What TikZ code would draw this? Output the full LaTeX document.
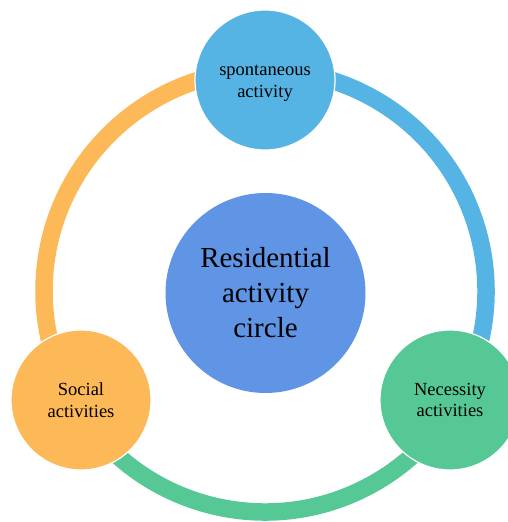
\documentclass[tikz,border=0pt]{standalone}
\usepackage{fontspec}
\setmainfont{Liberation Serif}
\usetikzlibrary{calc}
\definecolor{skyb}{RGB}{86,180,228}
\definecolor{midb}{RGB}{96,148,228}
\definecolor{orng}{RGB}{253,184,87}
\definecolor{grn}{RGB}{86,200,150}
\tikzset{
  ringseg/.style={line width=17.5pt},
  small/.style={circle, minimum size=140pt, inner sep=0pt, draw=white, line width=1.2pt},
  smalltext/.style={align=center, inner sep=0pt, font=\fontsize{18.5}{21.7}\selectfont},
  big/.style={circle, minimum size=200pt, inner sep=0pt, align=center, fill=midb,
    font=\fontsize{29}{35}\selectfont}
}
\begin{document}
\begin{tikzpicture}[x=1pt,y=1pt]
\useasboundingbox (0,0) rectangle (508,522);
\clip (0,0) rectangle (508,522);
\coordinate (ringc) at (265,231);
% ring segments
\draw[ringseg, orng] ($(ringc)+(90:221)$) arc[start angle=90, end angle=210, radius=221];
\draw[ringseg, skyb] ($(ringc)+(-30:221)$) arc[start angle=-30, end angle=90, radius=221];
\draw[ringseg, grn] ($(ringc)+(210:221)$) arc[start angle=210, end angle=330, radius=221];
% circles
\node[big] (center) at (265.5,229) {Residential\\activity\\circle};
\node[small, fill=skyb] (top) at (265,442) {};
\node[smalltext] (toptext) at ([yshift=-3pt]top.center) {spontaneous\\activity};
\node[small, fill=orng] (left) at (81,122) {};
\node[smalltext] (lefttext) at (left.center) {Social\\activities};
\node[small, fill=grn] (right) at (450,122) {};
\node[smalltext] (righttext) at (right.center) {Necessity\\activities};
\end{tikzpicture}
\end{document}
